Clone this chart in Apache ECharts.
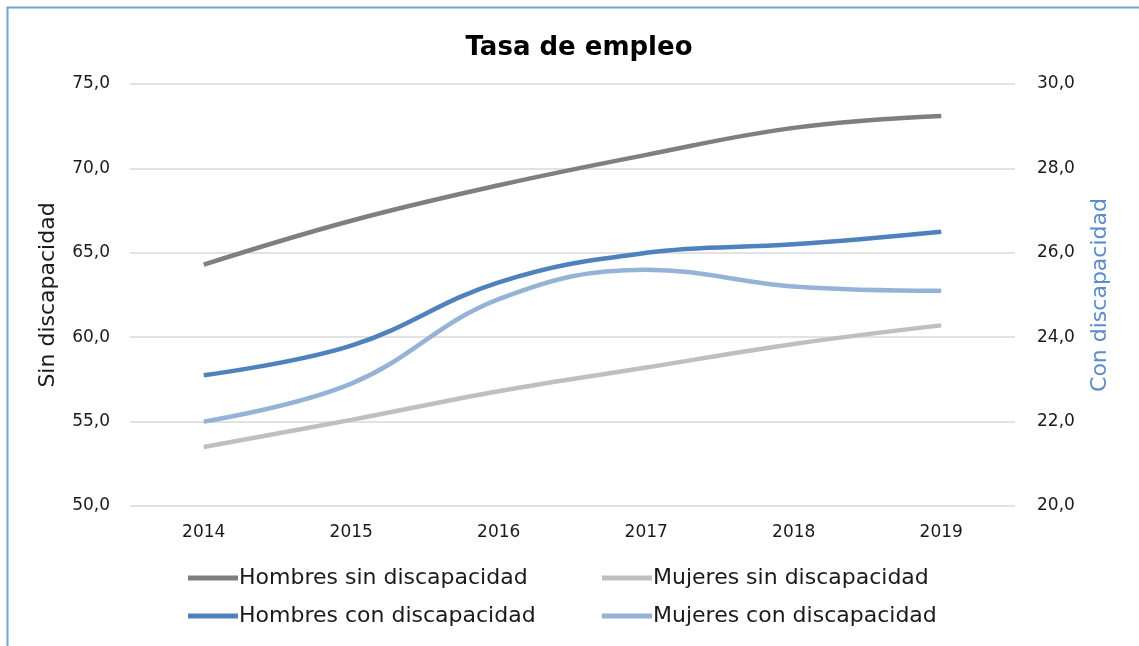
<!DOCTYPE html>
<html>
<head>
<meta charset="utf-8">
<title>Tasa de empleo</title>
<script src="https://cdn.jsdelivr.net/npm/echarts@6/dist/echarts.min.js"></script>
<style>
  html, body { margin: 0; padding: 0; background: #fff; }
  #main { width: 1139px; height: 646px; }
</style>
</head>
<body>
<div id="main"></div>
<script>
  // datos
  var years = ['2014', '2015', '2016', '2017', '2018', '2019'];
  var hombresSin = [64.3, 66.9, 69.0, 70.8, 72.4, 73.1];
  var mujeresSin = [53.5, 55.1, 56.8, 58.2, 59.6, 60.7];
  var hombresCon = [23.1, 23.8, 25.3, 26.0, 26.2, 26.5];
  var mujeresCon = [22.0, 22.9, 24.9, 25.6, 25.2, 25.1];

  var FONT = 'DejaVu Sans';

  function coma(v) {
    return v.toFixed(1).replace('.', ',');
  }

  function serie(name, data, color, axis) {
    return {
      name: name,
      type: 'line',
      yAxisIndex: axis,
      data: data,
      smooth: 0.4,
      symbol: 'none',
      lineStyle: { color: color, width: 4.5, cap: 'butt' },
      itemStyle: { color: color }
    };
  }

  var myChart = echarts.init(document.getElementById('main'));

  var legendBase = {
    orient: 'vertical',
    top: 562,
    itemGap: 16,
    itemWidth: 50,
    itemHeight: 5,
    icon: 'rect',
    textStyle: { fontFamily: FONT, fontSize: 22, color: '#1a1a1a', padding: [0, 0, 0, -4] }
  };

  // borde del marco (solo arriba e izquierda)
  var borde = { stroke: '#6fa0d8', lineWidth: 2 };

  var option = {
    backgroundColor: '#fff',
    title: {
      text: 'Tasa de empleo',
      left: 574,
      textAlign: 'center',
      top: 30,
      textStyle: { fontFamily: FONT, fontSize: 26, fontWeight: 'bold', color: '#000' }
    },
    grid: { left: 130, right: 124, top: 84, bottom: 140 },
    legend: [
      Object.assign({}, legendBase, { left: 183, data: ['Hombres sin discapacidad', 'Hombres con discapacidad'] }),
      Object.assign({}, legendBase, { left: 597, data: ['Mujeres sin discapacidad', 'Mujeres con discapacidad'] })
    ],
    xAxis: {
      type: 'category',
      data: years,
      boundaryGap: true,
      axisLine: { show: false },
      axisTick: { show: false },
      axisLabel: { fontFamily: FONT, fontSize: 17, color: '#1a1a1a', margin: 18 }
    },
    yAxis: [
      {
        type: 'value',
        min: 50,
        max: 75,
        interval: 5,
        name: 'Sin discapacidad',
        nameLocation: 'middle',
        nameGap: 71,
        nameRotate: 90,
        nameTextStyle: { fontFamily: FONT, fontSize: 22, color: '#1a1a1a' },
        axisLine: { show: false },
        axisTick: { show: false },
        axisLabel: { fontFamily: FONT, fontSize: 17, color: '#1a1a1a', margin: 20, formatter: coma },
        splitLine: { lineStyle: { color: '#d9d9d9', width: 1.5 } }
      },
      {
        type: 'value',
        min: 20,
        max: 30,
        interval: 2,
        name: 'Con discapacidad',
        nameLocation: 'middle',
        nameGap: 74,
        nameRotate: 90,
        nameTextStyle: { fontFamily: FONT, fontSize: 22, color: '#5b8ccb' },
        axisLine: { show: false },
        axisTick: { show: false },
        axisLabel: { fontFamily: FONT, fontSize: 17, color: '#1a1a1a', margin: 22, formatter: coma },
        splitLine: { show: false }
      }
    ],
    graphic: [
      { type: 'line', silent: true, shape: { x1: 7, y1: 7.5, x2: 1139, y2: 7.5 }, style: borde },
      { type: 'line', silent: true, shape: { x1: 7.5, y1: 7, x2: 7.5, y2: 646 }, style: borde }
    ],
    series: [
      serie('Hombres sin discapacidad', hombresSin, '#7f7f7f', 0),
      serie('Mujeres sin discapacidad', mujeresSin, '#bfbfbf', 0),
      serie('Hombres con discapacidad', hombresCon, '#4f81bd', 1),
      serie('Mujeres con discapacidad', mujeresCon, '#95b3d7', 1)
    ]
  };

  myChart.setOption(option);
</script>
</body>
</html>
